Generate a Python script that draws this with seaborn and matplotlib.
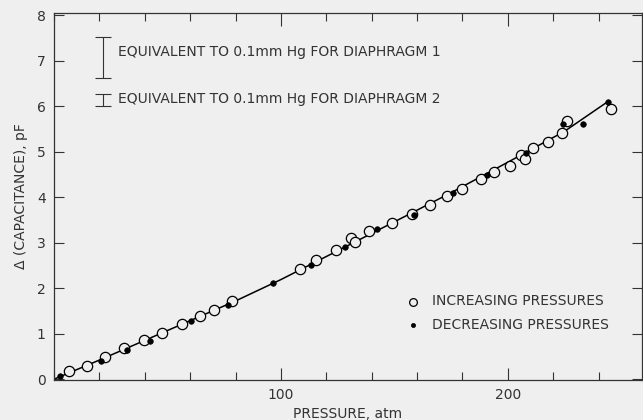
import matplotlib
matplotlib.use("Agg")
import matplotlib.pyplot as plt
from matplotlib.ticker import MultipleLocator, FixedLocator
import seaborn as sns
import pandas as pd

BG = "#efefef"
INK = "#333333"

# readings taken from the figure
inc_p = [6.6, 14.4, 22.5, 30.8, 39.6, 47.4, 56.5, 64.3, 70.7, 78.5, 108.5, 115.4,
         124.1, 131.1, 132.5, 139.0, 149.0, 157.8, 165.9, 173.0, 180.0, 188.2,
         194.1, 200.9, 205.8, 207.6, 211.1, 217.9, 224.0, 226.2, 245.3]
inc_c = [0.18, 0.30, 0.48, 0.69, 0.87, 1.01, 1.21, 1.39, 1.53, 1.71, 2.43, 2.62,
         2.83, 3.11, 3.02, 3.25, 3.43, 3.63, 3.83, 4.02, 4.18, 4.40,
         4.55, 4.68, 4.92, 4.85, 5.08, 5.22, 5.42, 5.67, 5.93]
dec_p = [2.6, 20.6, 32.0, 42.3, 60.2, 76.7, 96.6, 113.3, 128.1, 142.4, 158.6,
         175.9, 191.0, 207.8, 224.3, 233.3, 244.1]
dec_c = [0.07, 0.40, 0.64, 0.84, 1.27, 1.64, 2.11, 2.51, 2.91, 3.31, 3.60,
         4.10, 4.48, 4.97, 5.62, 5.62, 6.10]
fit_p = [0, 20, 50, 80, 100, 130, 150, 175, 200, 225, 244]
fit_c = [0, 0.42, 1.07, 1.72, 2.19, 2.95, 3.46, 4.10, 4.77, 5.45, 6.10]

# scale bars: pressure position, low, high, label height
bar_x = [21.6, 21.6]
bar_lo = [6.62, 6.00]
bar_hi = [7.52, 6.28]
bar_text_y = [7.19, 6.15]
bar_labels = ["EQUIVALENT TO 0.1mm Hg FOR DIAPHRAGM 1",
              "EQUIVALENT TO 0.1mm Hg FOR DIAPHRAGM 2"]
x_labeled = [100, 200]

sns.set_theme(style="ticks")
plt.rcParams.update({
    "font.family": ["DejaVu Sans"],
    "text.color": INK,
    "axes.labelcolor": INK,
    "xtick.color": INK,
    "ytick.color": INK,
    "axes.edgecolor": INK,
})

fig = plt.figure(figsize=(6.43, 4.20), dpi=100, facecolor=BG)
ax = fig.add_axes([0.084, 0.095, 0.914, 0.874], facecolor=BG)

fit = pd.DataFrame({"p": fit_p, "c": fit_c})
sns.lineplot(data=fit, x="p", y="c", color="black", lw=1.1, ax=ax, zorder=2)

inc = pd.DataFrame({"p": inc_p, "c": inc_c})
dec = pd.DataFrame({"p": dec_p, "c": dec_c})
sns.scatterplot(data=inc, x="p", y="c", marker="o", s=55, facecolor=BG,
                edgecolor="black", linewidth=0.9, ax=ax, zorder=3,
                label="INCREASING PRESSURES")
sns.scatterplot(data=dec, x="p", y="c", marker="o", s=16, color="black",
                edgecolor="black", linewidth=0.5, ax=ax, zorder=4,
                label="DECREASING PRESSURES")

for bx, lo, hi, ty, txt in zip(bar_x, bar_lo, bar_hi, bar_text_y, bar_labels):
    ax.errorbar([bx], [(lo + hi) / 2], yerr=[[(hi - lo) / 2]], fmt="none",
                ecolor=INK, elinewidth=0.8, capsize=6, capthick=0.8)
    ax.text(28.2, ty, txt, fontsize=10, va="center", ha="left")

ax.set_xlim(0, 259)
ax.set_ylim(-0.02, 8.05)
ax.xaxis.set_major_locator(FixedLocator(x_labeled))
ax.xaxis.set_minor_locator(MultipleLocator(20))
ax.yaxis.set_major_locator(MultipleLocator(1))
ax.tick_params(axis="x", which="major", direction="in", length=9, width=0.8,
               top=True, labelsize=10, pad=6)
ax.tick_params(axis="x", which="minor", direction="in", length=6, width=0.8, top=True)
ax.tick_params(axis="y", which="major", direction="in", length=7, width=0.8,
               right=True, labelsize=10, pad=6)
for s in ax.spines.values():
    s.set_linewidth(0.9)
    s.set_visible(True)

ax.set_xlabel("PRESSURE, atm", fontsize=10, labelpad=3)
ax.set_ylabel("\u0394 (CAPACITANCE), pF", fontsize=10, labelpad=6)

leg = ax.legend(loc="upper left", bbox_to_anchor=(0.566, 0.268), frameon=False,
                fontsize=10, handletextpad=0.4, labelspacing=0.7,
                markerscale=0.75)
for t in leg.get_texts():
    t.set_color(INK)

fig.savefig("out.png", dpi=100, facecolor=BG)
